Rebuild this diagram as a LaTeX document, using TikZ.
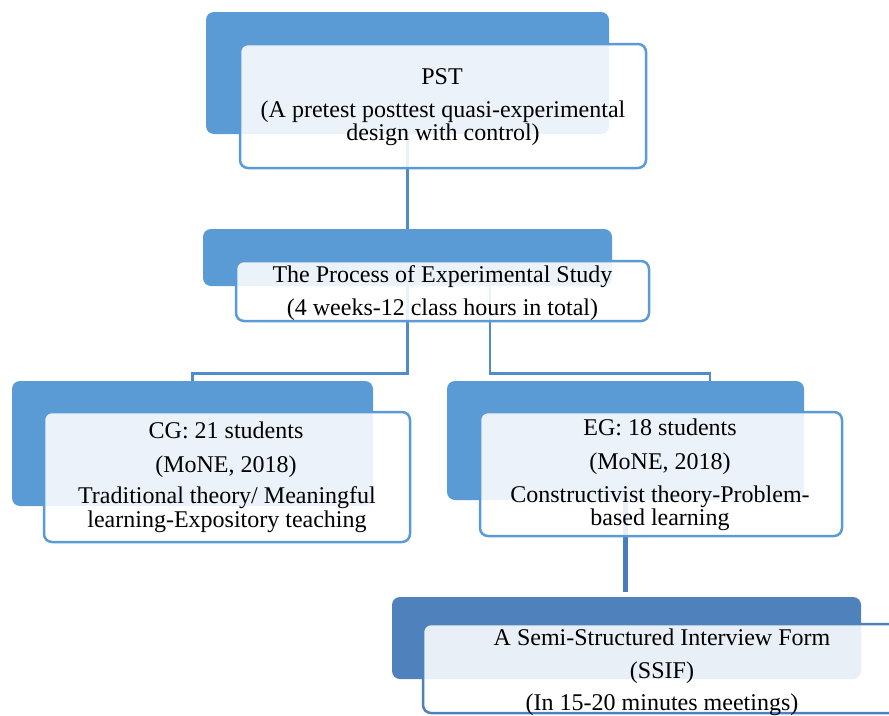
\documentclass[tikz,border=0pt]{standalone}
\usepackage{fontspec}
\setmainfont{Liberation Serif}
\definecolor{boxblue}{HTML}{5B9BD5}
\definecolor{deepblue}{HTML}{4F81BD}
\definecolor{linkblue}{HTML}{4A7EBB}
\definecolor{connblue}{HTML}{4F8CC9}
\tikzset{
  backbox/.style={draw=none, fill=#1, rounded corners=8pt, inner sep=0pt},
  backbox/.default=boxblue,
  frontbox/.style={draw=#1, line width=2.5pt, fill=white, fill opacity=0.88, rounded corners=8pt, inner sep=0pt},
  frontbox/.default=boxblue,
  conn/.style={draw=connblue, line width=2.5pt},
  thickconn/.style={draw=linkblue, line width=5.5pt},
  txt/.style={anchor=base, inner sep=0pt, font=\fontsize{24}{28}\selectfont, text=black}
}
\begin{document}
\begin{tikzpicture}[x=1pt, y=-1pt]
\useasboundingbox (0,0) rectangle (889,715);
% back boxes
\node[backbox, minimum width=403pt, minimum height=122pt] (pstback) at (407.5,73) {};
\node[backbox, minimum width=409pt, minimum height=57pt] (procback) at (407.5,257.5) {};
\node[backbox, minimum width=361pt, minimum height=125pt] (cgback) at (192.5,443.5) {};
\node[backbox, minimum width=357pt, minimum height=119pt] (egback) at (625.5,440.5) {};
\node[backbox=deepblue, minimum width=469pt, minimum height=82pt] (ssifback) at (626.5,638) {};
% connectors
\coordinate (ljoin) at (407.5,373.5);
\coordinate (rtop) at (490,286);
\coordinate (rjoin) at (490,373.5);
\coordinate (rend) at (710,381);
\draw[conn] (pstback.south) -- (procback.north);
\draw[conn] (procback.south) -- (ljoin) -| (cgback.north);
\draw[conn] (rtop) -- (rjoin) -| (rend);
\draw[thickconn, shorten >=5pt] (egback.south) -- (egback.south |- ssifback.north);
% front boxes
\node[frontbox, minimum width=406pt, minimum height=124pt] (pstfront) at (443,106) {};
\node[frontbox, minimum width=413pt, minimum height=60pt] (procfront) at (442.5,291) {};
\node[frontbox, minimum width=366pt, minimum height=130pt] (cgfront) at (227,477) {};
\node[frontbox, minimum width=362pt, minimum height=124pt] (egfront) at (661,474) {};
\node[frontbox=deepblue, minimum width=478pt, minimum height=89pt] (ssiffront) at (662,668.5) {};
% texts
\node[txt] (t1) at (442,84) {PST};
\node[txt] (t2) at (443,117) {(A pretest posttest quasi-experimental};
\node[txt] (t3) at (443,140) {design with control)};
\node[txt] (t4) at (442.5,282) {The Process of Experimental Study};
\node[txt] (t5) at (442.5,315) {(4 weeks-12 class hours in total)};
\node[txt] (t6) at (226,438) {CG: 21 students};
\node[txt] (t7) at (226,472) {(MoNE, 2018)};
\node[txt] (t8) at (227,503) {Traditional theory/ Meaningful};
\node[txt] (t9) at (227,527) {learning-Expository teaching};
\node[txt] (t10) at (660,435.5) {EG: 18 students};
\node[txt] (t11) at (660,469) {(MoNE, 2018)};
\node[txt] (t12) at (660,502) {Constructivist theory-Problem-};
\node[txt] (t13) at (660,525) {based learning};
\node[txt] (t14) at (662,645) {A Semi-Structured Interview Form};
\node[txt] (t15) at (662,678) {(SSIF)};
\node[txt] (t16) at (662,710) {(In 15-20 minutes meetings)};
\end{tikzpicture}
\end{document}
